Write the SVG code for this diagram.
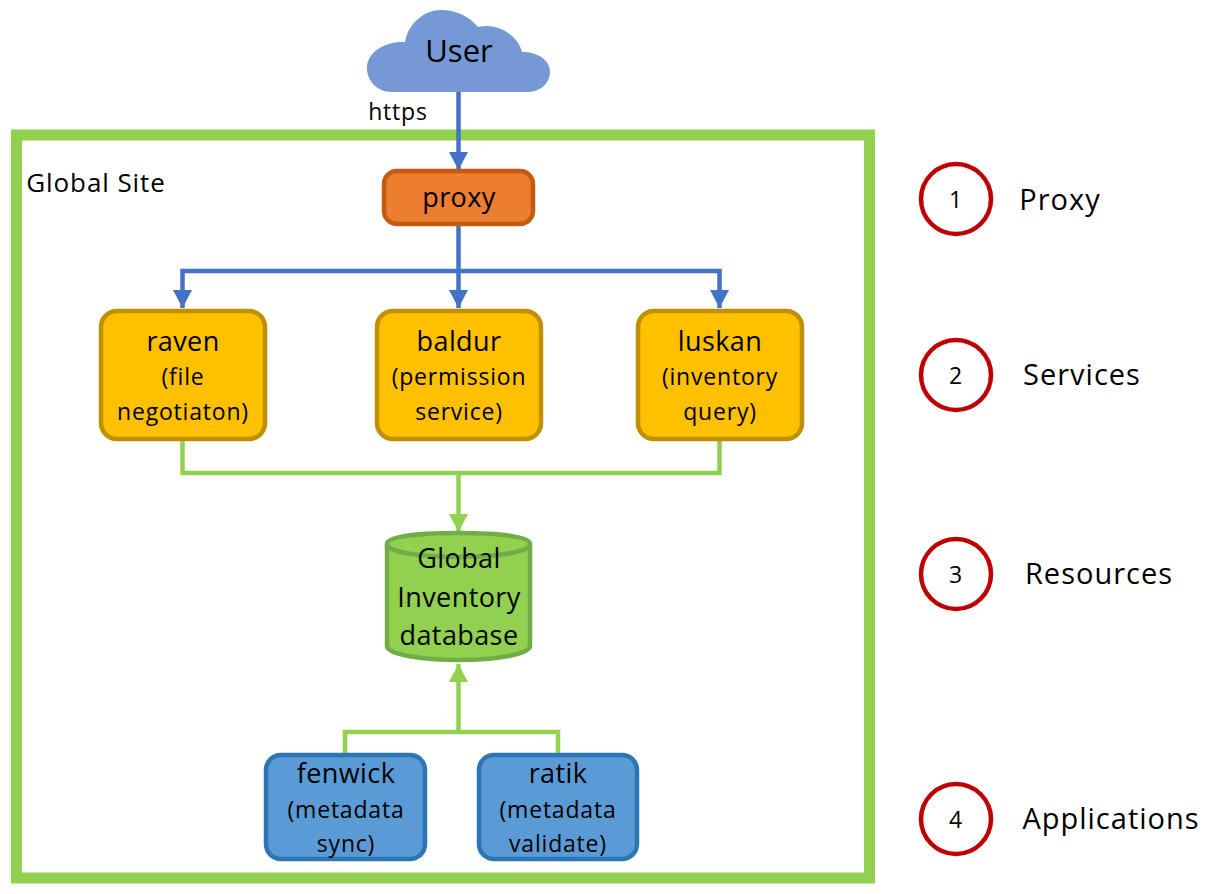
<svg xmlns="http://www.w3.org/2000/svg" width="1228" height="894" viewBox="0 0 1228 894">
<style>
text{font-family:"Open Sans","Noto Sans","DejaVu Sans",sans-serif;fill:#000;text-anchor:middle}
.t{font-size:27px;letter-spacing:.4px}.s{font-size:23px;letter-spacing:.8px}.l{font-size:29px;letter-spacing:1px}
.box{stroke-width:4.5}
.o{fill:#ed7d31;stroke:#c55a11}.y{fill:#ffc000;stroke:#bf9000}.b{fill:#5b9bd5;stroke:#2e75b6}
.c{fill:#fff;stroke:#c00000;stroke-width:4.5}
.bl{fill:none;stroke:#4472c4;stroke-width:4.5}.gr{fill:none;stroke:#92d050;stroke-width:4.5}
</style>
<defs>
<marker id="ab" markerUnits="userSpaceOnUse" markerWidth="20" markerHeight="20" refX="18" refY="9.5" orient="auto"><path d="M0 0L18 9.5L0 19Z" fill="#4472c4"/></marker>
<marker id="ag" markerUnits="userSpaceOnUse" markerWidth="20" markerHeight="20" refX="18" refY="9.5" orient="auto"><path d="M0 0L18 9.5L0 19Z" fill="#92d050"/></marker>
</defs>
<rect id="global-site" x="16.500" y="135" width="853" height="743" fill="none" stroke="#92d050" stroke-width="11"/>
<text x="96" y="192" style="font-size:26px;letter-spacing:.9px">Global Site</text>
<g id="connectors">
<path class="bl" d="M458.500 92V170" marker-end="url(#ab)"/>
<path class="bl" d="M458.500 222V308" marker-end="url(#ab)"/>
<path class="bl" d="M458.500 271H182.500V308" marker-end="url(#ab)"/>
<path class="bl" d="M458.500 271H719.500V308" marker-end="url(#ab)"/>
<path class="gr" d="M182.500 440V473H719.500V440"/>
<path class="gr" d="M458.500 473V532" marker-end="url(#ag)"/>
<path class="gr" d="M458.500 732V664" marker-end="url(#ag)"/>
<path class="gr" d="M345 755V732H558V755"/>
</g>
<g id="user"><path d="M392 92C376 92 367 80 367 68C367 52 385 41 405 42C408 23 425 10 441 10C457 10 470 17 478 27C497 22 518 35 522 52C538 52 550 60 550 72C550 83 540 92 528 92Z" fill="#7698d4"/><text x="459" y="62" style="font-size:31px">User</text></g>
<text x="398" y="120" style="font-size:23px;letter-spacing:.8px">https</text>
<g id="proxy"><rect class="box o" x="384" y="171" width="149" height="53" rx="13"/><text class="t" x="459" y="207">proxy</text></g>
<g id="raven"><rect class="box y" x="101" y="311" width="164" height="128" rx="16"/><text class="t" x="183" y="351">raven</text><text class="s" x="183" y="385">(file</text><text class="s" x="183" y="420">negotiaton)</text></g>
<g id="baldur"><rect class="box y" x="377" y="311" width="164" height="128" rx="16"/><text class="t" x="459" y="351">baldur</text><text class="s" x="459" y="385">(permission</text><text class="s" x="459" y="420">service)</text></g>
<g id="luskan"><rect class="box y" x="638" y="311" width="164" height="128" rx="16"/><text class="t" x="720" y="351">luskan</text><text class="s" x="720" y="385">(inventory</text><text class="s" x="720" y="420">query)</text></g>
<g id="database"><path d="M387 544V646C387 654 420 660 458.500 660C497 660 530 654 530 646V544C530 536 497 533 458.500 533C420 533 387 536 387 544Z" fill="#92d050" stroke="#70ad47" stroke-width="4.500"/><path d="M387 544C387 552 420 557 458.500 557C497 557 530 552 530 544" fill="none" stroke="#70ad47" stroke-width="4.500"/><text class="t" x="459" y="568">Global</text><text class="t" x="459" y="607">Inventory</text><text class="t" x="459" y="645">database</text></g>
<g id="fenwick"><rect class="box b" x="266" y="755" width="159" height="104" rx="15"/><text class="t" x="346" y="783">fenwick</text><text class="s" x="346" y="818">(metadata</text><text class="s" x="346" y="852">sync)</text></g>
<g id="ratik"><rect class="box b" x="479" y="755" width="158" height="104" rx="15"/><text class="t" x="558" y="783">ratik</text><text class="s" x="558" y="818">(metadata</text><text class="s" x="558" y="852">validate)</text></g>
<g id="n1"><circle class="c" cx="956" cy="199" r="35"/><text class="s" x="956" y="208">1</text></g>
<g id="n2"><circle class="c" cx="956" cy="375" r="35"/><text class="s" x="956" y="384">2</text></g>
<g id="n3"><circle class="c" cx="956" cy="574" r="35"/><text class="s" x="956" y="583">3</text></g>
<g id="n4"><circle class="c" cx="956" cy="819" r="35"/><text class="s" x="956" y="828">4</text></g>
<text class="l" x="1060" y="210">Proxy</text>
<text class="l" x="1082" y="385">Services</text>
<text class="l" x="1099" y="584">Resources</text>
<text class="l" x="1111" y="829">Applications</text>
</svg>
